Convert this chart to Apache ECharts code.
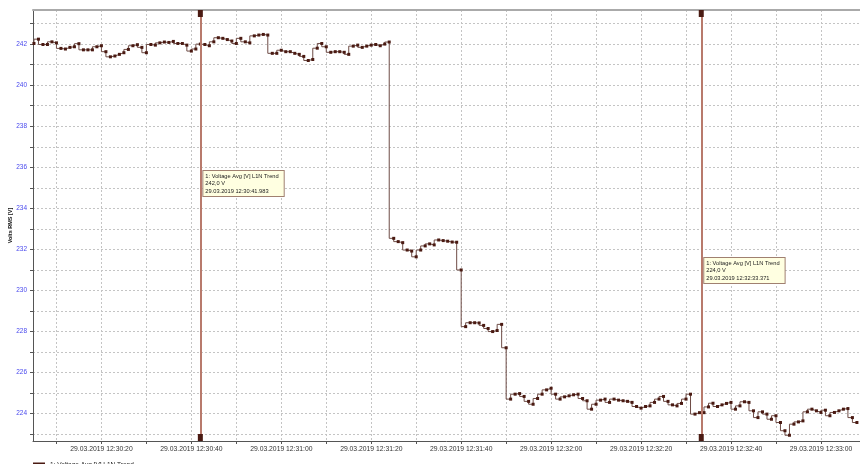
<!DOCTYPE html>
<html><head><meta charset="utf-8">
<script src="https://cdn.jsdelivr.net/npm/echarts@6/dist/echarts.min.js"></script>
<style>html,body{margin:0;padding:0;background:#fff}#c{width:860px;height:464px}</style>
</head><body><div id="c"></div>
<script>
// seconds after 29.03.2019 12:30:00
const sampleStart = 4.983;
const sampleStep = 1;
const voltage = [
242.03,242.24,241.98,241.98,242.11,242.06,241.79,241.76,241.84,241.87,
242.02,241.72,241.72,241.72,241.87,241.92,241.63,241.38,241.42,241.50,
241.58,241.74,241.92,241.97,241.84,241.58,241.98,241.95,242.06,242.10,
242.08,242.13,242.03,242.03,241.95,241.66,241.76,242.00,241.98,241.92,
242.11,242.31,242.28,242.22,242.15,242.03,242.28,242.11,242.06,242.40,
242.44,242.47,242.44,241.55,241.55,241.70,241.63,241.63,241.55,241.50,
241.40,241.20,241.25,241.80,242.03,241.87,241.60,241.63,241.63,241.60,
241.50,241.90,241.95,241.84,241.90,241.95,241.98,241.92,242.00,242.10,
232.54,232.38,232.33,231.97,231.92,231.64,231.97,232.17,232.27,232.22,
232.46,232.43,232.40,232.36,232.35,231.00,228.24,228.43,228.43,228.42,
228.30,228.15,228.00,228.05,228.35,227.21,224.71,224.95,224.98,224.84,
224.60,224.46,224.74,224.95,225.16,225.24,224.95,224.71,224.82,224.87,
224.92,224.95,224.74,224.63,224.22,224.46,224.66,224.71,224.55,224.71,
224.66,224.63,224.60,224.55,224.35,224.27,224.35,224.38,224.55,224.71,
224.84,224.60,224.43,224.38,224.50,224.71,224.95,223.98,224.05,224.05,
224.33,224.51,224.35,224.43,224.50,224.55,224.22,224.38,224.58,224.55,
224.14,223.81,224.09,223.98,223.73,223.90,223.57,223.17,222.95,223.49,
223.60,223.65,224.09,224.22,224.14,224.06,224.17,223.90,224.06,224.14,
224.22,224.25,223.81,223.57
];
const cursorTimes = [41.983, 153.371];
const cursorValues = ['242,0 V', '224,0 V'];
const cursorStamps = ['29.03.2019 12:30:41.983', '29.03.2019 12:32:33.371'];
const seriesName = '1: Voltage Avg [V] L1N Trend';
const xTicks = [10,20,30,40,50,60,70,80,90,100,110,120,130,140,150,160,170,180];
const xLabels = [20,40,60,80,100,120,140,160,180];
const yTicks = [223,224,225,226,227,228,229,230,231,232,233,234,235,236,237,238,239,240,241,242,243];
const yLabels = [224,226,228,230,232,234,236,238,240,242];
const xMin = 4.77, xMax = 188.67, yMin = 222.67, yMax = 243.66;

const data = voltage.map((v, i) => [sampleStart + i * sampleStep, v]);
function fmtTime(s) {
  const m = 30 + Math.floor(s / 60), sec = Math.round(s % 60);
  return '29.03.2019 12:' + String(m).padStart(2,'0') + ':' + String(sec).padStart(2,'0');
}
const FONT = 'Liberation Sans';
const chart = echarts.init(document.getElementById('c'), null, {renderer: 'canvas'});
chart.setOption({
  animation: false,
  textStyle: {fontFamily: FONT},
  grid: {left: 33, right: 0, top: 10, bottom: 23, containLabel: false, outerBoundsMode: 'none'},
  legend: {
    left: 28, top: 457, itemWidth: 12, itemHeight: 6, icon: 'rect', itemGap: 4,
    textStyle: {fontSize: 6.5, color: '#222', fontFamily: FONT},
    data: [seriesName]
  },
  xAxis: [{
    type: 'value', min: xMin, max: xMax,
    axisLine: {lineStyle: {color: '#555', width: 1}},
    axisTick: {customValues: xTicks, length: 3, lineStyle: {color: '#555'}},
    axisLabel: {customValues: xLabels, formatter: fmtTime, fontSize: 6.8, color: '#333', margin: 5},
    splitLine: {show: true, lineStyle: {color: '#c4c4c4', type: [2,2], width: 1}}
  }, {
    type: 'value', position: 'top', min: xMin, max: xMax,
    axisLine: {show: true, lineStyle: {color: '#aaaaaa', width: 2}},
    axisTick: {show: false}, axisLabel: {show: false}, splitLine: {show: false}
  }],
  yAxis: {
    type: 'value', min: yMin, max: yMax,
    name: 'Volts RMS [V]', nameLocation: 'middle', nameGap: 20, nameRotate: 90,
    nameMoveOverlap: false,
    nameTextStyle: {fontSize: 5.5, color: '#111', fontWeight: 'bold'},
    axisLine: {show: true, lineStyle: {color: '#555', width: 1}},
    axisTick: {show: true, customValues: yTicks, length: 3, lineStyle: {color: '#555'}},
    axisLabel: {customValues: yLabels, fontSize: 6.5, color: '#4a4aee', margin: 6},
    splitLine: {show: true, lineStyle: {color: '#c4c4c4', type: [2,2], width: 1}}
  },
  series: [{
    name: seriesName, type: 'line', step: 'start', data: data,
    symbol: 'rect', symbolSize: 3, showAllSymbol: true,
    itemStyle: {color: '#4a1a12'},
    lineStyle: {color: '#6e4c46', width: 1},
    markLine: {
      silent: true, symbol: 'none',
      lineStyle: {color: '#b87a6c', width: 2, type: 'solid', opacity: 1},
      label: {show: false},
      data: cursorTimes.map(t => [{coord: [t, yMin]}, {coord: [t, yMax]}])
    },
    markPoint: {
      silent: true, symbol: 'rect', symbolSize: [5, 7],
      itemStyle: {color: '#4a1a12'}, label: {show: false},
      data: cursorTimes.flatMap(t => [
        {coord: [t, yMax], symbolOffset: [0, 3.5]},
        {coord: [t, yMin], symbolOffset: [0, -3.5]}
      ])
    }
  }]
});
const boxTops = [170, 257];
const g = cursorTimes.map((t, i) => {
  const px = chart.convertToPixel({xAxisIndex: 0}, t);
  return {
    type: 'text', left: px + 2, top: boxTops[i], z: 100,
    style: {
      text: seriesName + '\n' + cursorValues[i] + '\n' + cursorStamps[i],
      font: '5.7px "Liberation Sans"', fill: '#222', lineHeight: 7.5,
      backgroundColor: '#ffffe1', borderColor: '#a08070', borderWidth: 1,
      padding: [1.5, 5, 1, 2]
    }
  };
});
chart.setOption({graphic: g});
</script></body></html>
